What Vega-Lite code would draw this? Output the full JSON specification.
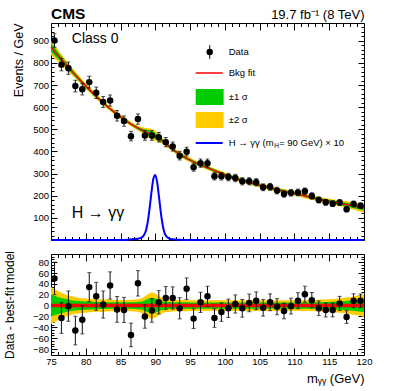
{
  "$schema": "https://vega.github.io/schema/vega-lite/v6.json",
  "padding": {"top": 6, "left": 3, "right": 5, "bottom": 0},
  "spacing": 14,
  "bounds": "flush",
  "config": {
    "font": "Liberation Sans",
    "view": {"stroke": "black", "strokeWidth": 1},
    "axis": {"domain": false, "grid": false, "labelFont": "Liberation Sans", "labelFontSize": 9.5, "labelColor": "black", "tickColor": "black", "titleFont": "Liberation Sans", "titleFontWeight": "normal", "titleColor": "black", "labelFlush": false, "labelOverlap": false}
  },
  "datasets": {
    "pts": [
      {"x": 75.5, "n": 901, "err": 30.0, "res": 50},
      {"x": 76.5, "n": 792, "err": 28.1, "res": -23},
      {"x": 77.5, "n": 776, "err": 27.9, "res": -1},
      {"x": 78.5, "n": 695, "err": 26.4, "res": -46},
      {"x": 79.5, "n": 681, "err": 26.1, "res": -26},
      {"x": 80.5, "n": 713, "err": 26.7, "res": 34},
      {"x": 81.5, "n": 665, "err": 25.8, "res": 17},
      {"x": 82.5, "n": 623, "err": 25.0, "res": 2},
      {"x": 83.5, "n": 630, "err": 25.1, "res": 37},
      {"x": 84.5, "n": 561, "err": 23.7, "res": -7},
      {"x": 85.5, "n": 537, "err": 23.2, "res": -8},
      {"x": 86.5, "n": 469, "err": 21.7, "res": -54},
      {"x": 87.5, "n": 546, "err": 23.4, "res": 41},
      {"x": 88.5, "n": 472, "err": 21.7, "res": -20},
      {"x": 89.5, "n": 472, "err": 21.7, "res": -9},
      {"x": 90.5, "n": 464, "err": 21.5, "res": 6},
      {"x": 91.5, "n": 442, "err": 21.0, "res": 14},
      {"x": 92.5, "n": 422, "err": 20.5, "res": 14},
      {"x": 93.5, "n": 381, "err": 19.5, "res": -5},
      {"x": 94.5, "n": 399, "err": 20.0, "res": 31},
      {"x": 95.5, "n": 329, "err": 18.1, "res": -24},
      {"x": 96.5, "n": 347, "err": 18.6, "res": 6},
      {"x": 97.5, "n": 347, "err": 18.6, "res": 17},
      {"x": 98.5, "n": 288, "err": 17.0, "res": -23},
      {"x": 99.5, "n": 288, "err": 17.0, "res": -12},
      {"x": 100.5, "n": 284, "err": 16.9, "res": -5},
      {"x": 101.5, "n": 280, "err": 16.7, "res": 3},
      {"x": 102.5, "n": 265, "err": 16.3, "res": -5},
      {"x": 103.5, "n": 265, "err": 16.3, "res": 5},
      {"x": 104.5, "n": 261, "err": 16.2, "res": 9},
      {"x": 105.5, "n": 238, "err": 15.4, "res": -4},
      {"x": 106.5, "n": 240, "err": 15.5, "res": 6},
      {"x": 107.5, "n": 223, "err": 14.9, "res": -2},
      {"x": 108.5, "n": 208, "err": 14.4, "res": -10},
      {"x": 109.5, "n": 213, "err": 14.6, "res": -1},
      {"x": 110.5, "n": 215, "err": 14.7, "res": 9},
      {"x": 111.5, "n": 220, "err": 14.8, "res": 21},
      {"x": 112.5, "n": 199, "err": 14.1, "res": 10},
      {"x": 113.5, "n": 181, "err": 13.5, "res": -5},
      {"x": 114.5, "n": 170, "err": 13.0, "res": -8},
      {"x": 115.5, "n": 164, "err": 12.8, "res": -8},
      {"x": 116.5, "n": 169, "err": 13.0, "res": 4},
      {"x": 117.5, "n": 139, "err": 11.8, "res": -21},
      {"x": 118.5, "n": 163, "err": 12.8, "res": 9},
      {"x": 119.5, "n": 155, "err": 12.4, "res": 9}
    ],
    "band": [
      {"x": 75, "f": 870, "l2": 836, "l1": 850, "u1": 890, "u2": 904, "m2": -34, "m1": -20, "p1": 20, "p2": 34},
      {"x": 76, "f": 833, "l2": 806, "l1": 817, "u1": 849, "u2": 860, "m2": -27, "m1": -16, "p1": 16, "p2": 27},
      {"x": 77, "f": 797, "l2": 776, "l1": 784.5, "u1": 809.5, "u2": 818, "m2": -21, "m1": -12.5, "p1": 12.5, "p2": 21},
      {"x": 78, "f": 762, "l2": 745, "l1": 752, "u1": 772, "u2": 779, "m2": -17, "m1": -10, "p1": 10, "p2": 17},
      {"x": 79, "f": 728, "l2": 713.5, "l1": 719.5, "u1": 736.5, "u2": 742.5, "m2": -14.5, "m1": -8.5, "p1": 8.5, "p2": 14.5},
      {"x": 80, "f": 695, "l2": 682, "l1": 687.5, "u1": 702.5, "u2": 708, "m2": -13, "m1": -7.5, "p1": 7.5, "p2": 13},
      {"x": 81, "f": 664, "l2": 652, "l1": 657, "u1": 671, "u2": 676, "m2": -12, "m1": -7, "p1": 7, "p2": 12},
      {"x": 82, "f": 634, "l2": 622.5, "l1": 627.5, "u1": 640.5, "u2": 645.5, "m2": -11.5, "m1": -6.5, "p1": 6.5, "p2": 11.5},
      {"x": 83, "f": 606, "l2": 595, "l1": 599.7, "u1": 612.3, "u2": 617, "m2": -11, "m1": -6.3, "p1": 6.3, "p2": 11},
      {"x": 84, "f": 580, "l2": 569.5, "l1": 574, "u1": 586, "u2": 590.5, "m2": -10.5, "m1": -6, "p1": 6, "p2": 10.5},
      {"x": 85, "f": 556, "l2": 545.5, "l1": 550, "u1": 562, "u2": 566.5, "m2": -10.5, "m1": -6, "p1": 6, "p2": 10.5},
      {"x": 86, "f": 534, "l2": 523.5, "l1": 528, "u1": 540, "u2": 544.5, "m2": -10.5, "m1": -6, "p1": 6, "p2": 10.5},
      {"x": 87, "f": 514, "l2": 503, "l1": 507.8, "u1": 520.2, "u2": 525, "m2": -11, "m1": -6.2, "p1": 6.2, "p2": 11},
      {"x": 88, "f": 497, "l2": 484, "l1": 489.5, "u1": 504.5, "u2": 510, "m2": -13, "m1": -7.5, "p1": 7.5, "p2": 13},
      {"x": 88.5, "f": 490.5, "l2": 473.5, "l1": 480.5, "u1": 500.5, "u2": 507.5, "m2": -17, "m1": -10, "p1": 10, "p2": 17},
      {"x": 89, "f": 484, "l2": 462.5, "l1": 471.5, "u1": 496.5, "u2": 505.5, "m2": -21.5, "m1": -12.5, "p1": 12.5, "p2": 21.5},
      {"x": 89.5, "f": 477, "l2": 453, "l1": 463, "u1": 491, "u2": 501, "m2": -24, "m1": -14, "p1": 14, "p2": 24},
      {"x": 90, "f": 470, "l2": 448, "l1": 457, "u1": 483, "u2": 492, "m2": -22, "m1": -13, "p1": 13, "p2": 22},
      {"x": 90.5, "f": 459, "l2": 441, "l1": 448.5, "u1": 469.5, "u2": 477, "m2": -18, "m1": -10.5, "p1": 10.5, "p2": 18},
      {"x": 91, "f": 448, "l2": 434, "l1": 440, "u1": 456, "u2": 462, "m2": -14, "m1": -8, "p1": 8, "p2": 14},
      {"x": 92, "f": 422, "l2": 410.5, "l1": 415.5, "u1": 428.5, "u2": 433.5, "m2": -11.5, "m1": -6.5, "p1": 6.5, "p2": 11.5},
      {"x": 93, "f": 398, "l2": 387.5, "l1": 392, "u1": 404, "u2": 408.5, "m2": -10.5, "m1": -6, "p1": 6, "p2": 10.5},
      {"x": 94, "f": 378, "l2": 367.5, "l1": 372, "u1": 384, "u2": 388.5, "m2": -10.5, "m1": -6, "p1": 6, "p2": 10.5},
      {"x": 95, "f": 361, "l2": 351, "l1": 355.2, "u1": 366.8, "u2": 371, "m2": -10, "m1": -5.8, "p1": 5.8, "p2": 10},
      {"x": 96, "f": 346, "l2": 336, "l1": 340.2, "u1": 351.8, "u2": 356, "m2": -10, "m1": -5.8, "p1": 5.8, "p2": 10},
      {"x": 97, "f": 333, "l2": 323, "l1": 327.2, "u1": 338.8, "u2": 343, "m2": -10, "m1": -5.8, "p1": 5.8, "p2": 10},
      {"x": 98, "f": 320, "l2": 310, "l1": 314.2, "u1": 325.8, "u2": 330, "m2": -10, "m1": -5.8, "p1": 5.8, "p2": 10},
      {"x": 99, "f": 307, "l2": 297, "l1": 301.2, "u1": 312.8, "u2": 317, "m2": -10, "m1": -5.8, "p1": 5.8, "p2": 10},
      {"x": 100, "f": 295, "l2": 285, "l1": 289.2, "u1": 300.8, "u2": 305, "m2": -10, "m1": -5.8, "p1": 5.8, "p2": 10},
      {"x": 101, "f": 284, "l2": 274, "l1": 278.2, "u1": 289.8, "u2": 294, "m2": -10, "m1": -5.8, "p1": 5.8, "p2": 10},
      {"x": 102, "f": 273, "l2": 263, "l1": 267.2, "u1": 278.8, "u2": 283, "m2": -10, "m1": -5.8, "p1": 5.8, "p2": 10},
      {"x": 103, "f": 264, "l2": 254, "l1": 258.2, "u1": 269.8, "u2": 274, "m2": -10, "m1": -5.8, "p1": 5.8, "p2": 10},
      {"x": 104, "f": 255, "l2": 245, "l1": 249.2, "u1": 260.8, "u2": 265, "m2": -10, "m1": -5.8, "p1": 5.8, "p2": 10},
      {"x": 105, "f": 247, "l2": 237, "l1": 241.2, "u1": 252.8, "u2": 257, "m2": -10, "m1": -5.8, "p1": 5.8, "p2": 10},
      {"x": 106, "f": 239, "l2": 229, "l1": 233.2, "u1": 244.8, "u2": 249, "m2": -10, "m1": -5.8, "p1": 5.8, "p2": 10},
      {"x": 107, "f": 231, "l2": 221, "l1": 225.2, "u1": 236.8, "u2": 241, "m2": -10, "m1": -5.8, "p1": 5.8, "p2": 10},
      {"x": 108, "f": 224, "l2": 214, "l1": 218.2, "u1": 229.8, "u2": 234, "m2": -10, "m1": -5.8, "p1": 5.8, "p2": 10},
      {"x": 109, "f": 217, "l2": 207, "l1": 211.2, "u1": 222.8, "u2": 227, "m2": -10, "m1": -5.8, "p1": 5.8, "p2": 10},
      {"x": 110, "f": 210, "l2": 200, "l1": 204.2, "u1": 215.8, "u2": 220, "m2": -10, "m1": -5.8, "p1": 5.8, "p2": 10},
      {"x": 111, "f": 203, "l2": 193, "l1": 197.2, "u1": 208.8, "u2": 213, "m2": -10, "m1": -5.8, "p1": 5.8, "p2": 10},
      {"x": 112, "f": 195, "l2": 185, "l1": 189.2, "u1": 200.8, "u2": 205, "m2": -10, "m1": -5.8, "p1": 5.8, "p2": 10},
      {"x": 113, "f": 188, "l2": 177.5, "l1": 182, "u1": 194, "u2": 198.5, "m2": -10.5, "m1": -6, "p1": 6, "p2": 10.5},
      {"x": 114, "f": 181, "l2": 170, "l1": 174.7, "u1": 187.3, "u2": 192, "m2": -11, "m1": -6.3, "p1": 6.3, "p2": 11},
      {"x": 115, "f": 175, "l2": 163.2, "l1": 168.3, "u1": 181.7, "u2": 186.8, "m2": -11.8, "m1": -6.7, "p1": 6.7, "p2": 11.8},
      {"x": 116, "f": 169, "l2": 156.2, "l1": 161.7, "u1": 176.3, "u2": 181.8, "m2": -12.8, "m1": -7.3, "p1": 7.3, "p2": 12.8},
      {"x": 117, "f": 163, "l2": 149, "l1": 155, "u1": 171, "u2": 177, "m2": -14, "m1": -8, "p1": 8, "p2": 14},
      {"x": 118, "f": 157, "l2": 141.2, "l1": 148, "u1": 166, "u2": 172.8, "m2": -15.8, "m1": -9, "p1": 9, "p2": 15.8},
      {"x": 119, "f": 150, "l2": 132, "l1": 139.7, "u1": 160.3, "u2": 168, "m2": -18, "m1": -10.3, "p1": 10.3, "p2": 18},
      {"x": 120, "f": 144, "l2": 123, "l1": 132, "u1": 156, "u2": 165, "m2": -21, "m1": -12, "p1": 12, "p2": 21}
    ],
    "sig": [
      {"x": 75, "s": 0}, {"x": 80, "s": 0}, {"x": 85, "s": 0}, {"x": 86, "s": 1}, {"x": 87, "s": 4},
      {"x": 87.5, "s": 6}, {"x": 88, "s": 10.5}, {"x": 88.5, "s": 29.5}, {"x": 88.75, "s": 55.6},
      {"x": 89, "s": 100}, {"x": 89.25, "s": 162}, {"x": 89.5, "s": 230}, {"x": 89.75, "s": 281},
      {"x": 90, "s": 294}, {"x": 90.25, "s": 263}, {"x": 90.5, "s": 202}, {"x": 90.75, "s": 134},
      {"x": 91, "s": 78}, {"x": 91.25, "s": 40}, {"x": 91.5, "s": 20}, {"x": 92, "s": 6.5},
      {"x": 92.5, "s": 3}, {"x": 93, "s": 1.8}, {"x": 94, "s": 0.4}, {"x": 95, "s": 0},
      {"x": 100, "s": 0}, {"x": 110, "s": 0}, {"x": 120, "s": 0}
    ]
  },
  "vconcat": [
    {
      "width": 313,
      "height": 217,
      "resolve": {"axis": {"x": "independent", "y": "independent"}},
      "layer": [
        {
          "data": {"name": "band"},
          "mark": {"type": "area", "interpolate": "monotone", "color": "#ffcc00"},
          "encoding": {
            "x": {"field": "x", "type": "quantitative", "scale": {"domain": [75, 120], "nice": false, "zero": false},
              "axis": {"orient": "bottom", "values": [75,76,77,78,79,80,81,82,83,84,85,86,87,88,89,90,91,92,93,94,95,96,97,98,99,100,101,102,103,104,105,106,107,108,109,110,111,112,113,114,115,116,117,118,119,120], "labels": false, "title": null, "tickSize": {"condition": {"test": "datum.value % 5 === 0", "value": -7}, "value": -3.5}}},
            "y": {"field": "l2", "type": "quantitative", "scale": {"domain": [0, 980], "nice": false, "zero": false},
              "axis": {"orient": "left", "values": [20,40,60,80,100,120,140,160,180,200,220,240,260,280,300,320,340,360,380,400,420,440,460,480,500,520,540,560,580,600,620,640,660,680,700,720,740,760,780,800,820,840,860,880,900,920,940,960], "labelExpr": "datum.value % 100 === 0 ? datum.label : ''", "tickSize": {"condition": {"test": "datum.value % 100 === 0", "value": -6}, "value": -3}, "labelPadding": 8.5, "title": "Events / GeV", "titleAnchor": "end", "titlePadding": 7.5, "titleFontSize": 12.5}},
            "y2": {"field": "u2"}
          }
        },
        {
          "data": {"name": "band"},
          "mark": {"type": "area", "interpolate": "monotone", "color": "#00cc00"},
          "encoding": {
            "x": {"field": "x", "type": "quantitative", "scale": {"domain": [75, 120], "nice": false, "zero": false},
              "axis": {"orient": "top", "values": [75,76,77,78,79,80,81,82,83,84,85,86,87,88,89,90,91,92,93,94,95,96,97,98,99,100,101,102,103,104,105,106,107,108,109,110,111,112,113,114,115,116,117,118,119,120], "labels": false, "tickSize": {"condition": {"test": "datum.value % 5 === 0", "value": -7}, "value": -3.5}, "title": "19.7 fb⁻¹ (8 TeV)", "titleAnchor": "end", "titleFontSize": 13, "titlePadding": 4, "titleBaseline": "alphabetic"}},
            "y": {"field": "l1", "type": "quantitative", "scale": {"domain": [0, 980], "nice": false, "zero": false},
              "axis": {"orient": "right", "values": [20,40,60,80,100,120,140,160,180,200,220,240,260,280,300,320,340,360,380,400,420,440,460,480,500,520,540,560,580,600,620,640,660,680,700,720,740,760,780,800,820,840,860,880,900,920,940,960], "labels": false, "title": null, "tickSize": {"condition": {"test": "datum.value % 100 === 0", "value": -6}, "value": -3}}},
            "y2": {"field": "u1"}
          }
        },
        {
          "data": {"name": "band"},
          "mark": {"type": "line", "interpolate": "monotone", "strokeWidth": 1.5, "color": "#ff0000"},
          "encoding": {
            "x": {"field": "x", "type": "quantitative", "axis": null},
            "y": {"field": "f", "type": "quantitative", "axis": null}
          }
        },
        {
          "data": {"name": "sig"},
          "mark": {"type": "line", "interpolate": "monotone", "strokeWidth": 2, "color": "#0000ff"},
          "encoding": {
            "x": {"field": "x", "type": "quantitative", "axis": null},
            "y": {"field": "s", "type": "quantitative", "axis": null}
          }
        },
        {
          "data": {"name": "pts"},
          "mark": {"type": "errorbar", "color": "#111111", "ticks": {"size": 4}, "rule": {"strokeWidth": 1}},
          "encoding": {
            "x": {"field": "x", "type": "quantitative", "axis": null},
            "y": {"field": "n", "type": "quantitative", "axis": null},
            "yError": {"field": "err"}
          }
        },
        {
          "data": {"name": "pts"},
          "mark": {"type": "point", "filled": true, "shape": "circle", "size": 42, "opacity": 1, "color": "#000000"},
          "encoding": {
            "x": {"field": "x", "type": "quantitative", "axis": null},
            "y": {"field": "n", "type": "quantitative", "axis": null}
          }
        },
        {
          "data": {"values": [{}]},
          "mark": {"type": "rule", "color": "#111111", "strokeWidth": 1},
          "encoding": {
            "x": {"datum": 97.82, "type": "quantitative", "axis": null},
            "y": {"datum": 817.4, "type": "quantitative", "axis": null},
            "y2": {"datum": 880.6}
          }
        },
        {
          "data": {"values": [{}]},
          "mark": {"type": "point", "filled": true, "shape": "circle", "size": 42, "opacity": 1, "color": "#000000"},
          "encoding": {
            "x": {"datum": 97.82, "type": "quantitative", "axis": null},
            "y": {"datum": 849, "type": "quantitative", "axis": null}
          }
        },
        {
          "data": {"values": [{}]},
          "mark": {"type": "rule", "color": "#ff0000", "strokeWidth": 1.5},
          "encoding": {
            "x": {"datum": 95.8, "type": "quantitative", "axis": null},
            "x2": {"datum": 99.68},
            "y": {"datum": 754.2, "type": "quantitative", "axis": null}
          }
        },
        {
          "data": {"values": [{}]},
          "mark": {"type": "rect", "color": "#00cc00"},
          "encoding": {
            "x": {"datum": 95.8, "type": "quantitative", "axis": null},
            "x2": {"datum": 99.82},
            "y": {"datum": 681.9, "type": "quantitative", "axis": null},
            "y2": {"datum": 609.7}
          }
        },
        {
          "data": {"values": [{}]},
          "mark": {"type": "rect", "color": "#ffcc00"},
          "encoding": {
            "x": {"datum": 95.8, "type": "quantitative", "axis": null},
            "x2": {"datum": 99.82},
            "y": {"datum": 578.1, "type": "quantitative", "axis": null},
            "y2": {"datum": 505.8}
          }
        },
        {
          "data": {"values": [{}]},
          "mark": {"type": "rule", "color": "#0000ff", "strokeWidth": 2},
          "encoding": {
            "x": {"datum": 95.8, "type": "quantitative", "axis": null},
            "x2": {"datum": 99.68},
            "y": {"datum": 438.1, "type": "quantitative", "axis": null}
          }
        },
        {
          "data": {"values": [{}]},
          "mark": {"type": "text", "align": "left", "baseline": "middle", "fontSize": 9.5, "font": "Liberation Sans", "color": "black"},
          "encoding": {
            "x": {"datum": 100.55, "type": "quantitative", "axis": null},
            "y": {"datum": 849, "type": "quantitative", "axis": null},
            "text": {"value": "Data"}
          }
        },
        {
          "data": {"values": [{}]},
          "mark": {"type": "text", "align": "left", "baseline": "middle", "fontSize": 9.5, "font": "Liberation Sans", "color": "black"},
          "encoding": {
            "x": {"datum": 100.55, "type": "quantitative", "axis": null},
            "y": {"datum": 754.2, "type": "quantitative", "axis": null},
            "text": {"value": "Bkg fit"}
          }
        },
        {
          "data": {"values": [{}]},
          "mark": {"type": "text", "align": "left", "baseline": "middle", "fontSize": 9.5, "font": "Liberation Sans", "color": "black"},
          "encoding": {
            "x": {"datum": 100.55, "type": "quantitative", "axis": null},
            "y": {"datum": 645.8, "type": "quantitative", "axis": null},
            "text": {"value": "±1 σ"}
          }
        },
        {
          "data": {"values": [{}]},
          "mark": {"type": "text", "align": "left", "baseline": "middle", "fontSize": 9.5, "font": "Liberation Sans", "color": "black"},
          "encoding": {
            "x": {"datum": 100.55, "type": "quantitative", "axis": null},
            "y": {"datum": 541.9, "type": "quantitative", "axis": null},
            "text": {"value": "±2 σ"}
          }
        },
        {
          "data": {"values": [{}]},
          "mark": {"type": "text", "align": "left", "baseline": "middle", "fontSize": 9.5, "font": "Liberation Sans", "color": "black"},
          "encoding": {
            "x": {"datum": 100.55, "type": "quantitative", "axis": null},
            "y": {"datum": 438.1, "type": "quantitative", "axis": null},
            "text": {"value": "H → γγ (m"}
          }
        },
        {
          "data": {"values": [{}]},
          "mark": {"type": "text", "align": "left", "baseline": "middle", "fontSize": 6.5, "font": "Liberation Sans", "color": "black"},
          "encoding": {
            "x": {"datum": 107.1, "type": "quantitative", "axis": null},
            "y": {"datum": 422.3, "type": "quantitative", "axis": null},
            "text": {"value": "H"}
          }
        },
        {
          "data": {"values": [{}]},
          "mark": {"type": "text", "align": "left", "baseline": "middle", "fontSize": 9.5, "font": "Liberation Sans", "color": "black"},
          "encoding": {
            "x": {"datum": 107.8, "type": "quantitative", "axis": null},
            "y": {"datum": 438.1, "type": "quantitative", "axis": null},
            "text": {"value": " = 90 GeV) × 10"}
          }
        },
        {
          "data": {"values": [{}]},
          "mark": {"type": "text", "align": "left", "baseline": "alphabetic", "fontSize": 15.5, "fontWeight": "bold", "font": "Liberation Sans", "color": "black"},
          "encoding": {
            "x": {"datum": 75, "type": "quantitative", "axis": null},
            "y": {"datum": 1000, "type": "quantitative", "axis": null},
            "text": {"value": "CMS"}
          }
        },
        {
          "data": {"values": [{}]},
          "mark": {"type": "text", "align": "left", "baseline": "alphabetic", "fontSize": 14, "font": "Liberation Sans", "color": "black"},
          "encoding": {
            "x": {"datum": 78, "type": "quantitative", "axis": null},
            "y": {"datum": 890, "type": "quantitative", "axis": null},
            "text": {"value": "Class 0"}
          }
        },
        {
          "data": {"values": [{}]},
          "mark": {"type": "text", "align": "left", "baseline": "alphabetic", "fontSize": 16, "font": "Liberation Sans", "color": "black"},
          "encoding": {
            "x": {"datum": 78, "type": "quantitative", "axis": null},
            "y": {"datum": 100, "type": "quantitative", "axis": null},
            "text": {"value": "H → γγ"}
          }
        }
      ]
    },
    {
      "width": 313,
      "height": 101,
      "resolve": {"axis": {"x": "independent", "y": "independent"}},
      "layer": [
        {
          "data": {"name": "band"},
          "mark": {"type": "area", "interpolate": "monotone", "color": "#ffcc00"},
          "encoding": {
            "x": {"field": "x", "type": "quantitative", "scale": {"domain": [75, 120], "nice": false, "zero": false},
              "axis": {"orient": "bottom", "values": [75,76,77,78,79,80,81,82,83,84,85,86,87,88,89,90,91,92,93,94,95,96,97,98,99,100,101,102,103,104,105,106,107,108,109,110,111,112,113,114,115,116,117,118,119,120], "labelExpr": "datum.value % 5 === 0 ? datum.label : ''", "tickSize": {"condition": {"test": "datum.value % 5 === 0", "value": -7}, "value": -3.5}, "labelPadding": 8.5, "title": "mᵧᵧ (GeV)", "titleAnchor": "end", "titleFontSize": 13, "titlePadding": 3}},
            "y": {"field": "m2", "type": "quantitative", "scale": {"domain": [-91, 95], "nice": false, "zero": false},
              "axis": {"orient": "left", "values": [-85,-80,-75,-70,-65,-60,-55,-50,-45,-40,-35,-30,-25,-20,-15,-10,-5,0,5,10,15,20,25,30,35,40,45,50,55,60,65,70,75,80,85,90], "labelExpr": "datum.value % 20 === 0 ? datum.label : ''", "tickSize": {"condition": {"test": "datum.value % 20 === 0", "value": -6}, "value": -3}, "labelPadding": 8.5, "title": "Data - best-fit model", "titlePadding": 15.5, "titleFontSize": 12}},
            "y2": {"field": "p2"}
          }
        },
        {
          "data": {"name": "band"},
          "mark": {"type": "area", "interpolate": "monotone", "color": "#00cc00"},
          "encoding": {
            "x": {"field": "x", "type": "quantitative", "scale": {"domain": [75, 120], "nice": false, "zero": false},
              "axis": {"orient": "top", "values": [75,76,77,78,79,80,81,82,83,84,85,86,87,88,89,90,91,92,93,94,95,96,97,98,99,100,101,102,103,104,105,106,107,108,109,110,111,112,113,114,115,116,117,118,119,120], "labels": false, "title": null, "tickSize": {"condition": {"test": "datum.value % 5 === 0", "value": -7}, "value": -3.5}}},
            "y": {"field": "m1", "type": "quantitative", "scale": {"domain": [-91, 95], "nice": false, "zero": false},
              "axis": {"orient": "right", "values": [-85,-80,-75,-70,-65,-60,-55,-50,-45,-40,-35,-30,-25,-20,-15,-10,-5,0,5,10,15,20,25,30,35,40,45,50,55,60,65,70,75,80,85,90], "labels": false, "title": null, "tickSize": {"condition": {"test": "datum.value % 20 === 0", "value": -6}, "value": -3}}},
            "y2": {"field": "p1"}
          }
        },
        {
          "data": {"values": [{}]},
          "mark": {"type": "rule", "color": "#ff0000", "strokeWidth": 3.5},
          "encoding": {
            "y": {"datum": 0, "type": "quantitative", "axis": null}
          }
        },
        {
          "data": {"name": "pts"},
          "mark": {"type": "errorbar", "color": "#111111", "ticks": {"size": 4}, "rule": {"strokeWidth": 1}},
          "encoding": {
            "x": {"field": "x", "type": "quantitative", "axis": null},
            "y": {"field": "res", "type": "quantitative", "axis": null},
            "yError": {"field": "err"}
          }
        },
        {
          "data": {"name": "pts"},
          "mark": {"type": "point", "filled": true, "shape": "circle", "size": 42, "opacity": 1, "color": "#000000"},
          "encoding": {
            "x": {"field": "x", "type": "quantitative", "axis": null},
            "y": {"field": "res", "type": "quantitative", "axis": null}
          }
        }
      ]
    }
  ]
}
